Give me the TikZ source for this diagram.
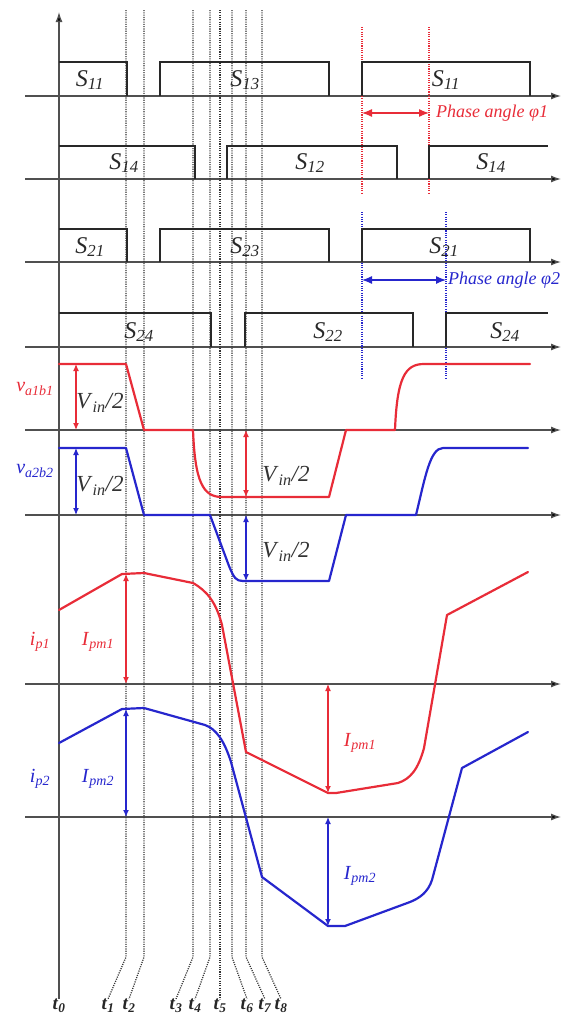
\documentclass[tikz,border=0pt]{standalone}
\usepackage{fontspec}
\setmainfont{Liberation Serif}
\usetikzlibrary{arrows.meta}
\definecolor{wred}{RGB}{232,44,56}
\definecolor{wblue}{RGB}{38,38,205}
\definecolor{pulsec}{RGB}{40,40,40}
\definecolor{axisc}{RGB}{80,80,80}
\newcommand\lb[2]{\textit{#1}\textsubscript{\textit{#2}}}
\newcommand\tl[1]{\textbf{\textit{t}\textsubscript{\textit{#1}}}}
\begin{document}
\begin{tikzpicture}[x=1pt,y=-1pt,
  axisline/.style={draw=axisc,line width=1.3pt,-{Latex[length=10pt,width=7pt,fill=black]}},
  guide/.style={draw=black!80,line width=1.25pt,dash pattern=on 1.1pt off 1.2pt},
  pulse/.style={draw=pulsec,line width=2.6pt,line join=miter},
  wave/.style={line width=2.2pt,line join=round,line cap=round},
  dim/.style={line width=1.2pt,{Latex[length=7pt,width=6pt]}-{Latex[length=7pt,width=6pt]}},
  pdim/.style={line width=1.2pt,{Latex[length=10pt,width=8pt]}-{Latex[length=10pt,width=8pt]}},
  slab/.style={font=\fontsize{24}{24}\selectfont,text=pulsec,inner sep=0pt},
  vlab/.style={font=\fontsize{23}{23}\selectfont,text=black!80,inner sep=0pt},
  ilab/.style={font=\fontsize{20}{20}\selectfont,inner sep=0pt},
  tlab/.style={font=\fontsize{19}{19}\selectfont,text=black!85,inner sep=0pt},
  plab/.style={font=\fontsize{18}{18}\selectfont\itshape,inner sep=0pt,anchor=west}]
\useasboundingbox (0,0) rectangle (563,1015);

% time labels
\node[tlab] (t0) at (59,1006) {\tl{0}};
\node[tlab] (t1) at (108,1006) {\tl{1}};
\node[tlab] (t2) at (129,1006) {\tl{2}};
\node[tlab] (t3) at (176,1006) {\tl{3}};
\node[tlab] (t4) at (195,1006) {\tl{4}};
\node[tlab] (t5) at (220,1006) {\tl{5}};
\node[tlab] (t6) at (247,1006) {\tl{6}};
\node[tlab] (t7) at (265,1006) {\tl{7}};
\node[tlab] (t8) at (281,1006) {\tl{8}};

% axes
\draw[axisline] (t0.north) -- (59,12);
\foreach \y in {96,179,262,347,430,515,684,817}
  \draw[axisline] (25,\y) -- (561,\y);

% guide lines
\draw[guide] (126,10) -- (126,957) -- (t1.north);
\draw[guide] (144,10) -- (144,957) -- (t2.north);
\draw[guide] (193,10) -- (193,957) -- (t3.north);
\draw[guide] (210,10) -- (210,957) -- (t4.north);
\draw[guide] (220,10) -- (220,957) -- (t5.north);
\draw[guide] (232,10) -- (232,957) -- (t6.north);
\draw[guide] (246,10) -- (246,957) -- (t7.north);
\draw[guide] (262,10) -- (262,957) -- (t8.north);

% phase guide lines
\draw[guide,draw=wred] (362,27) -- (362,193);
\draw[guide,draw=wred] (429,27) -- (429,193);
\draw[guide,draw=wblue] (362,212) -- (362,379);
\draw[guide,draw=wblue] (446,212) -- (446,379);

% gate pulses
\draw[pulse] (59,62) -- (127,62) -- (127,96);
\draw[pulse] (160,96) -- (160,62) -- (329,62) -- (329,96);
\draw[pulse] (362,96) -- (362,62) -- (530,62) -- (530,96);

\draw[pulse] (59,146) -- (195,146) -- (195,179);
\draw[pulse] (227,179) -- (227,146) -- (397,146) -- (397,179);
\draw[pulse] (429,179) -- (429,146) -- (548,146);

\draw[pulse] (59,229) -- (127,229) -- (127,262);
\draw[pulse] (160,262) -- (160,229) -- (329,229) -- (329,262);
\draw[pulse] (362,262) -- (362,229) -- (530,229) -- (530,262);

\draw[pulse] (59,313) -- (211,313) -- (211,347);
\draw[pulse] (245,347) -- (245,313) -- (413,313) -- (413,347);
\draw[pulse] (446,347) -- (446,313) -- (548,313);

\node[slab] (s11a) at (90,80) {\lb{S}{11}};
\node[slab] (s13) at (245,80) {\lb{S}{13}};
\node[slab] (s11b) at (446,80) {\lb{S}{11}};
\node[slab] (s14a) at (124,163) {\lb{S}{14}};
\node[slab] (s12) at (310,163) {\lb{S}{12}};
\node[slab] (s14b) at (491,163) {\lb{S}{14}};
\node[slab] (s21a) at (90,247) {\lb{S}{21}};
\node[slab] (s23) at (245,247) {\lb{S}{23}};
\node[slab] (s21b) at (444,247) {\lb{S}{21}};
\node[slab] (s24a) at (139,332) {\lb{S}{24}};
\node[slab] (s22) at (328,332) {\lb{S}{22}};
\node[slab] (s24b) at (505,332) {\lb{S}{24}};

% phase angles
\coordinate (pa1) at (362,113);
\coordinate (pb1) at (429,113);
\draw[pdim,wred] (pa1) -- (pb1);
\node[plab,text=wred] (ph1) at (436,113) {Phase angle φ1};
\coordinate (pa2) at (362,280);
\coordinate (pb2) at (446,280);
\draw[pdim,wblue] (pa2) -- (pb2);
\node[plab,text=wblue] (ph2) at (448,280) {Phase angle φ2};

% voltages
\draw[wave,wred] (59,364) -- (126,364) -- (144,430) -- (193,430)
  .. controls (195,482) and (203,497) .. (222,497) -- (329,497) -- (346,430) -- (395,430)
  .. controls (397,378) and (405,364) .. (424,364) -- (530,364);
\draw[wave,wblue] (59,448) -- (126,448) -- (144,515) -- (210,515) -- (229,566)
  .. controls (234,578) and (236,581) .. (243,581) -- (329,581) -- (346,515) -- (416,515)
  .. controls (425,478) and (430,448) .. (443,448) -- (528,448);

\draw[dim,wred] (76,364) -- (76,430);
\draw[dim,wblue] (76,448) -- (76,515);
\draw[dim,wred] (246,430) -- (246,497);
\draw[dim,wblue] (246,515) -- (246,581);

\node[ilab,text=wred] (va1) at (35,389) {\lb{v}{a1b1}};
\node[ilab,text=wblue] (va2) at (35,471) {\lb{v}{a2b2}};
\node[vlab] (vin1) at (100,403) {\lb{V}{in}\textit{/2}};
\node[vlab] (vin2) at (100,486) {\lb{V}{in}\textit{/2}};
\node[vlab] (vin3) at (286,476) {\lb{V}{in}\textit{/2}};
\node[vlab] (vin4) at (286,552) {\lb{V}{in}\textit{/2}};

% currents
\draw[wave,wred] (59,610) -- (122,574) -- (144,573) -- (193,583)
  .. controls (207,591) and (216,602) .. (222,625) -- (246,752) -- (328,793) -- (336,793)
  -- (398,783) .. controls (410,779) and (418,770) .. (424,748) -- (447,615) -- (528,572);
\draw[wave,wblue] (59,743) -- (122,709) -- (144,708) -- (205,725)
  .. controls (216,729) and (224,740) .. (231,762) -- (262,877) -- (328,926) -- (345,926)
  -- (410,902) .. controls (420,898) and (428,892) .. (432,880) -- (462,768) -- (528,732);

\draw[dim,wred] (126,574) -- (126,684);
\draw[dim,wblue] (126,709) -- (126,817);
\draw[dim,wred] (328,684) -- (328,793);
\draw[dim,wblue] (328,817) -- (328,926);

\node[ilab,text=wred] (ip1) at (40,642) {\lb{i}{p1}};
\node[ilab,text=wblue] (ip2) at (40,779) {\lb{i}{p2}};
\node[ilab,text=wred] (ipm1a) at (98,642) {\lb{I}{pm1}};
\node[ilab,text=wblue] (ipm2a) at (98,779) {\lb{I}{pm2}};
\node[ilab,text=wred] (ipm1b) at (360,743) {\lb{I}{pm1}};
\node[ilab,text=wblue] (ipm2b) at (360,876) {\lb{I}{pm2}};
\end{tikzpicture}
\end{document}
